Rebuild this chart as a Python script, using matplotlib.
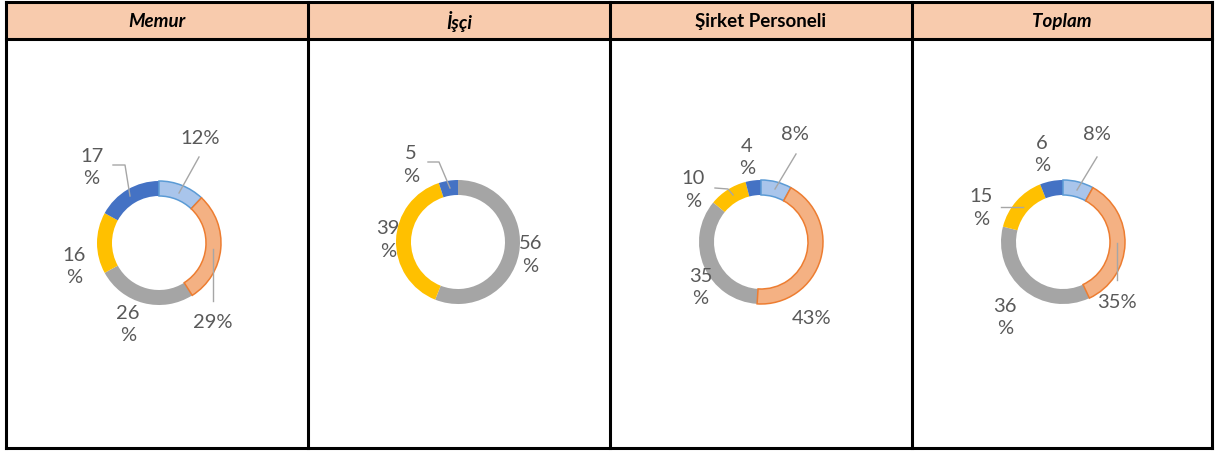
import matplotlib
matplotlib.use('Agg')
import matplotlib.pyplot as plt
from matplotlib.patches import Rectangle

plt.rcParams['font.family'] = ['Lato', 'DejaVu Sans']

W, H = 1215, 451

titles = ['Memur', 'İşçi', 'Şirket Personeli', 'Toplam']
title_italic = [True, True, False, True]

# slice values, clockwise from 12 o'clock
memur = [12, 29, 26, 16, 17]
isci = [0, 0, 56, 39, 5]
sirket = [8, 43, 35, 10, 4]
toplam = [8, 35, 36, 15, 6]
values = [memur, isci, sirket, toplam]

fills = ['#A9C5EB', '#F4B183', '#A5A5A5', '#FFC000', '#4472C4']
edges = ['#5B9BD5', '#ED7D31', 'none', 'none', 'none']

# layout in pixel units (y measured from the top)
col_x = [6, 308, 610, 912, 1212]
top, head_bot, bottom = 2, 39, 448
centers = [(159, 243), (458, 242), (761, 242), (1063, 242)]
R, RING = 62, 15

# label layout: slice index -> (x, y, wrapped, leader points)
labels = [
    {0: (200, 139, False, [(199, 157), (179, 193)]),
     1: (213, 323, False, [(213, 249), (213, 301)]),
     2: (128, 324.5, True, None),
     3: (74, 266.5, True, None),
     4: (91.5, 167.5, True, [(113, 165), (125, 165), (130, 196)])},
    {2: (530.5, 255, True, None),
     3: (388, 240, True, None),
     4: (411, 165, True, [(428, 162), (439, 162), (450, 188)])},
    {0: (795, 135, False, [(796, 154), (775, 189)]),
     1: (812, 318, False, None),
     2: (700.5, 287.5, True, None),
     3: (693, 190, True, [(715, 188), (728, 189), (733, 195)]),
     4: (747, 157.5, True, None)},
    {0: (1097, 135, False, [(1097, 157), (1077, 190)]),
     1: (1117, 303, False, [(1117, 243), (1117, 280)]),
     2: (1005, 317.5, True, None),
     3: (981.5, 208, True, [(1001, 207), (1023, 207)]),
     4: (1042, 154.5, True, None)},
]


def fy(y):
    return H - y


fig = plt.figure(figsize=(W / 100, H / 100), dpi=100)
ax = fig.add_axes([0, 0, 1, 1])

# header background
ax.add_patch(Rectangle((col_x[0], fy(head_bot)), col_x[-1] - col_x[0], head_bot - top,
                       facecolor='#F8CBAD', edgecolor='none', zorder=0))

# donuts
for i, vals in enumerate(values):
    idx = [k for k, v in enumerate(vals) if v > 0]
    cx, cy = centers[i]
    wedges, _ = ax.pie([vals[k] for k in idx], colors=[fills[k] for k in idx],
                       startangle=90, counterclock=False, radius=R,
                       center=(cx, fy(cy)), wedgeprops=dict(width=RING, linewidth=0))
    for w, k in zip(wedges, idx):
        if edges[k] != 'none':
            w.set_edgecolor(edges[k])
            w.set_linewidth(1.1)
            w.set_zorder(3)

    for k, (lx, ly, wrap, leader) in labels[i].items():
        txt = f'{vals[k]}\n%' if wrap else f'{vals[k]}%'
        ax.text(lx, fy(ly), txt, ha='center', va='center', fontsize=14.5,
                color='#595959', linespacing=1.4, zorder=5)
        if leader:
            ax.plot([p[0] for p in leader], [fy(p[1]) for p in leader],
                    color='#A6A6A6', lw=1.0, zorder=4)

# header titles
for i, t in enumerate(titles):
    ax.text((col_x[i] + col_x[i + 1]) / 2, fy((top + head_bot) / 2 + 1), t,
            ha='center', va='center', fontsize=13.5, fontweight='bold',
            style='italic' if title_italic[i] else 'normal', color='black')

# table grid
lw = 2.2
for x in col_x:
    ax.plot([x, x], [fy(top), fy(bottom)], color='black', lw=lw,
            solid_capstyle='projecting', zorder=6)
for y in (top, head_bot, bottom):
    ax.plot([col_x[0], col_x[-1]], [fy(y), fy(y)], color='black', lw=lw,
            solid_capstyle='projecting', zorder=6)

ax.set_xlim(0, W)
ax.set_ylim(0, H)
ax.set_aspect('auto')
ax.axis('off')

fig.savefig('out.png', dpi=100, facecolor='white')
